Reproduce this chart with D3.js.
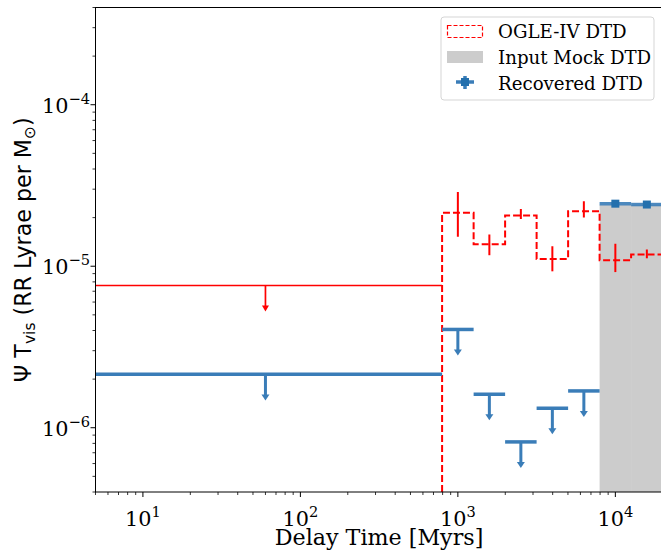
<!DOCTYPE html>
<html>
<head>
<meta charset="utf-8">
<script src="https://cdn.jsdelivr.net/npm/d3@7"></script>
<style>
  body { margin: 0; background: #fff; }
  svg { display: block; }
  text { font-family: "DejaVu Serif", serif; fill: #000; }
</style>
</head>
<body>
<div id="chart"></div>
<script>
// bin edges in Myr (0.2 dex bins above ~800 Myr, one wide bin below)
const binEdges = [5, 794, 1259, 1995, 3162, 5012, 7943, 12589, 19953];

// OGLE-IV DTD (red dashed step), first bin is an upper limit only
const ogleValues = [null, 2.14e-5, 1.37e-5, 2.06e-5, 1.11e-5, 2.19e-5, 1.09e-5, 1.18e-5];
const ogleErrHigh = [null, 2.88e-5, 1.57e-5, 2.26e-5, 1.33e-5, 2.53e-5, 1.38e-5, 1.27e-5];
const ogleErrLow = [null, 1.52e-5, 1.17e-5, 1.96e-5, 9.3e-6, 2.0e-5, 9.2e-6, 1.12e-5];
const ogleLimit = 7.6e-6;
const ogleLimitAt = 60;

// input mock DTD (grey bars)
const mockInput = [0, 0, 0, 0, 0, 0, 2.4e-5, 2.4e-5];

// recovered DTD: upper limits and detections
const recUpper = [2.14e-6, 4.06e-6, 1.61e-6, 8.17e-7, 1.32e-6, 1.69e-6, null, null];
const recDetect = [null, null, null, null, null, null, 2.44e-5, 2.41e-5];
const limitFactor = 0.69;

const xTicks = [10, 100, 1000, 10000];
const xTickExp = ["1", "2", "3", "4"];
const yTicks = [1e-6, 1e-5, 1e-4];
const yTickExp = ["\u22126", "\u22125", "\u22124"];

const legendLabels = ["OGLE-IV DTD", "Input Mock DTD", "Recovered DTD"];

const W = 661, H = 550;
const mLeft = 95.5, mRight = 662.6, mTop = 7.5, mBottom = 492;
const blue = "#3a7db8";

const svg = d3.select("#chart").append("svg")
  .attr("width", W).attr("height", H);

const x = d3.scaleLog().domain([5, 19953]).range([mLeft, mRight]);
const y = d3.scaleLog().domain([4e-7, 4e-4]).range([mBottom, mTop]);

svg.append("clipPath").attr("id", "plotclip")
  .append("rect").attr("x", mLeft).attr("y", mTop)
  .attr("width", mRight - mLeft).attr("height", mBottom - mTop);

const plot = svg.append("g").attr("clip-path", "url(#plotclip)");

// grey mock bars
const bins = d3.range(binEdges.length - 1);
plot.selectAll("rect.mock")
  .data(bins.filter(i => mockInput[i] > 0))
  .join("rect")
  .attr("class", "mock")
  .attr("x", i => x(binEdges[i]))
  .attr("width", i => x(binEdges[i + 1]) - x(binEdges[i]) + 0.5)
  .attr("y", i => y(mockInput[i]))
  .attr("height", i => mBottom - y(mockInput[i]))
  .attr("fill", "#cccccc");

// red dashed step
const stepPts = [[binEdges[1], 4e-7]];
for (let i = 1; i < ogleValues.length; i++) {
  stepPts.push([binEdges[i], ogleValues[i]]);
  stepPts.push([binEdges[i + 1], ogleValues[i]]);
}
plot.append("path")
  .datum(stepPts)
  .attr("fill", "none")
  .attr("stroke", "red")
  .attr("stroke-width", 2)
  .attr("stroke-dasharray", "7,3")
  .attr("d", d3.line().x(d => x(d[0])).y(d => y(d[1])));

// red error bars
const binMid = i => Math.sqrt(binEdges[i] * binEdges[i + 1]);
plot.selectAll("line.oerr")
  .data(bins.filter(i => ogleValues[i] != null))
  .join("line")
  .attr("x1", i => x(binMid(i))).attr("x2", i => x(binMid(i)))
  .attr("y1", i => y(ogleErrHigh[i])).attr("y2", i => y(ogleErrLow[i]))
  .attr("stroke", "red").attr("stroke-width", 2);

// arrow helper
function arrow(g, xv, yv, color, lw, hw, hh) {
  const px = x(xv), y0 = y(yv), y1 = y(yv * limitFactor);
  g.append("line")
    .attr("x1", px).attr("x2", px).attr("y1", y0).attr("y2", y1 - hh + 1)
    .attr("stroke", color).attr("stroke-width", lw);
  g.append("path")
    .attr("d", `M${px - hw / 2},${y1 - hh}L${px + hw / 2},${y1 - hh}L${px},${y1}Z`)
    .attr("fill", color);
}

// red upper limit in first bin
plot.append("line")
  .attr("x1", x(binEdges[0])).attr("x2", x(binEdges[1]))
  .attr("y1", y(ogleLimit)).attr("y2", y(ogleLimit))
  .attr("stroke", "red").attr("stroke-width", 1.7);
arrow(plot, ogleLimitAt, ogleLimit, "red", 1.7, 7, 6);

// recovered upper limits
bins.filter(i => recUpper[i] != null).forEach(i => {
  plot.append("line")
    .attr("x1", x(binEdges[i])).attr("x2", x(binEdges[i + 1]))
    .attr("y1", y(recUpper[i])).attr("y2", y(recUpper[i]))
    .attr("stroke", blue).attr("stroke-width", 3.5);
  arrow(plot, i === 0 ? ogleLimitAt : binMid(i), recUpper[i], blue, 3, 8, 6);
});

// recovered detections
bins.filter(i => recDetect[i] != null).forEach(i => {
  plot.append("line")
    .attr("x1", x(binEdges[i])).attr("x2", x(binEdges[i + 1]))
    .attr("y1", y(recDetect[i])).attr("y2", y(recDetect[i]))
    .attr("stroke", blue).attr("stroke-width", 3.5).attr("opacity", 0.9);
  plot.append("rect")
    .attr("x", x(binMid(i)) - 4).attr("y", y(recDetect[i]) - 4)
    .attr("width", 8).attr("height", 8)
    .attr("fill", "#2470ad");
});

// axes
const axes = svg.append("g");
axes.append("rect")
  .attr("x", mLeft).attr("y", mTop)
  .attr("width", mRight - mLeft).attr("height", mBottom - mTop)
  .attr("fill", "none").attr("stroke", "#000").attr("stroke-width", 1);

function minorTicks(scale) {
  const [a, b] = scale.domain();
  const out = [];
  for (let e = Math.floor(Math.log10(a)); e <= Math.ceil(Math.log10(b)); e++) {
    for (let m = 2; m <= 9; m++) {
      const v = m * Math.pow(10, e);
      if (v >= a && v <= b) out.push(v);
    }
  }
  return out;
}

axes.selectAll("line.xminor").data(minorTicks(x)).join("line")
  .attr("x1", d => x(d)).attr("x2", d => x(d))
  .attr("y1", mBottom).attr("y2", mBottom + 3)
  .attr("stroke", "#000").attr("stroke-width", 0.8);
axes.selectAll("line.xmajor").data(xTicks).join("line")
  .attr("x1", d => x(d)).attr("x2", d => x(d))
  .attr("y1", mBottom).attr("y2", mBottom + 5)
  .attr("stroke", "#000").attr("stroke-width", 1);
axes.selectAll("line.yminor").data(minorTicks(y)).join("line")
  .attr("x1", mLeft - 3).attr("x2", mLeft)
  .attr("y1", d => y(d)).attr("y2", d => y(d))
  .attr("stroke", "#000").attr("stroke-width", 0.8);
axes.selectAll("line.ymajor").data(yTicks).join("line")
  .attr("x1", mLeft - 5).attr("x2", mLeft)
  .attr("y1", d => y(d)).attr("y2", d => y(d))
  .attr("stroke", "#000").attr("stroke-width", 1);

const fs = 20.8, fsSup = 14.6;
xTicks.forEach((v, i) => {
  const t = axes.append("text")
    .attr("x", x(v)).attr("y", mBottom + 34)
    .attr("text-anchor", "middle")
    .style("font-size", fs + "px");
  t.append("tspan").text("10");
  t.append("tspan").attr("dy", -9).style("font-size", fsSup + "px").text(xTickExp[i]);
});
yTicks.forEach((v, i) => {
  const t = axes.append("text")
    .attr("x", mLeft - 5.5).attr("y", y(v) + 8)
    .attr("text-anchor", "end")
    .style("font-size", fs + "px");
  t.append("tspan").text("10");
  t.append("tspan").attr("dy", -9).style("font-size", fsSup + "px").text(yTickExp[i]);
});

svg.append("text")
  .attr("x", (mLeft + mRight) / 2).attr("y", 545)
  .attr("text-anchor", "middle")
  .style("font-size", "22.2px")
  .text("Delay Time [Myrs]");

const yl = svg.append("text")
  .attr("transform", `translate(31,${(mTop + mBottom) / 2}) rotate(-90)`)
  .attr("text-anchor", "middle")
  .style("font-family", "'DejaVu Sans', sans-serif")
  .style("font-size", "22.2px");
yl.append("tspan").text("\u03a8 T");
yl.append("tspan").attr("dy", 4).style("font-size", "15.5px").text("vis");
yl.append("tspan").attr("dy", -4).text(" (RR Lyrae per M");
yl.append("tspan").attr("dy", 4).style("font-size", "15.5px").text("\u2299");
yl.append("tspan").attr("dy", -4).text(")");

// legend
const lg = svg.append("g");
lg.append("rect")
  .attr("x", 441).attr("y", 17).attr("width", 213).attr("height", 83)
  .attr("rx", 3).attr("fill", "#fff").attr("fill-opacity", 0.8)
  .attr("stroke", "#d5d5d5").attr("stroke-width", 1);
lg.append("rect")
  .attr("x", 447.5).attr("y", 25.5).attr("width", 35).attr("height", 12)
  .attr("fill", "none").attr("stroke", "red").attr("stroke-width", 1.2)
  .attr("stroke-dasharray", "4,2");
lg.append("rect")
  .attr("x", 447).attr("y", 51).attr("width", 36).attr("height", 12)
  .attr("fill", "#cccccc");
lg.append("line").attr("x1", 456).attr("x2", 474).attr("y1", 82).attr("y2", 82)
  .attr("stroke", blue).attr("stroke-width", 3.5);
lg.append("line").attr("x1", 465).attr("x2", 465).attr("y1", 76).attr("y2", 89)
  .attr("stroke", blue).attr("stroke-width", 3.5);
lg.append("rect").attr("x", 461).attr("y", 78).attr("width", 8).attr("height", 8)
  .attr("fill", "#2470ad");
legendLabels.forEach((s, i) => {
  lg.append("text")
    .attr("x", 498).attr("y", 38 + i * 26)
    .style("font-size", "18.2px")
    .text(s);
});
</script>
</body>
</html>
